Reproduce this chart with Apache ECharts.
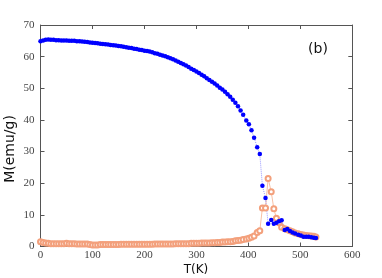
<!DOCTYPE html>
<html><head><meta charset="utf-8">
<script src="https://cdn.jsdelivr.net/npm/echarts@6/dist/echarts.min.js"></script>
<style>html,body{margin:0;padding:0;background:#fff}#c{width:382px;height:278px}</style>
</head><body><div id="c"></div>
<script>
var temperatures = [0,5,10,15,20,25,30,35,40,45,50,55,60,65,70,75,80,85,90,95,100,105,110,115,120,125,130,135,140,145,150,155,160,165,170,175,180,185,190,195,200,205,210,215,220,225,230,235,240,245,250,255,260,265,270,275,280,285,290,295,300,305,310,315,320,325,330,335,340,345,350,355,360,365,370,375,380,
385,390,396,401,406,411,417,422,427,433,438,444,449,454,459,464,470,475,480,485,490,496,501,506,511,516,521,526,530];
var mBlue = [64.9,65.1,65.3,65.4,65.3,65.3,65.2,65.2,65.1,65.1,65.1,65.0,65.0,65.0,64.9,64.9,64.8,64.7,64.6,64.5,64.4,64.3,64.2,64.1,64.0,63.9,63.8,63.7,63.6,63.5,63.4,63.3,63.1,63.0,62.8,62.7,62.5,62.4,62.2,62.1,61.9,61.8,61.6,61.4,61.1,60.9,60.6,60.4,60.1,59.8,59.5,59.2,58.8,58.4,58.0,57.6,57.2,56.7,56.2,55.8,55.3,54.8,54.3,53.8,53.2,52.6,52.1,51.5,50.9,50.2,49.6,48.9,48.1,47.3,46.4,45.4,44.3,
43.0,41.6,39.8,38.6,36.7,34.4,31.4,29.2,19.2,15.3,7.2,8.4,7.2,7.5,8.0,8.3,5.2,5.5,4.9,4.4,4.1,3.7,3.5,3.1,3.1,3.1,2.9,2.8,2.7];
var mOrange = [1.5,1.3,1.1,1.0,0.9,0.9,0.9,0.9,0.9,0.9,1.0,0.9,0.9,0.9,0.8,0.8,0.8,0.8,0.8,0.6,0.5,0.5,0.5,0.6,0.6,0.6,0.6,0.6,0.6,0.6,0.6,0.7,0.7,0.7,0.7,0.7,0.7,0.7,0.7,0.7,0.7,0.7,0.7,0.7,0.8,0.8,0.8,0.8,0.8,0.8,0.8,0.8,0.9,0.9,0.9,0.9,0.9,0.9,1.0,1.0,1.0,1.0,1.1,1.1,1.1,1.1,1.2,1.2,1.3,1.3,1.4,1.4,1.5,1.5,1.6,1.8,1.9,
2.0,2.2,2.4,2.6,2.9,3.3,4.4,5.0,12.2,12.2,21.5,17.3,11.9,8.9,7.5,6.1,5.6,5.3,5.0,4.7,4.3,4.0,3.8,3.6,3.5,3.4,3.3,3.2,3.0];
var xTicks = [0,100,200,300,400,500,600];
var yTicks = [0,10,20,30,40,50,60,70];
var xTitle = 'T(K)', yTitle = 'M(emu/g)', panelLabel = '(b)';

function pairs(v){ return temperatures.map(function(t,i){ return [t, v[i]]; }); }
var frameLine = {show:true, onZero:false, lineStyle:{color:'#555',width:1}};
var tick = {show:true, inside:true, length:4, lineStyle:{color:'#555'}};
var chart = echarts.init(document.getElementById('c'), null, {renderer:'canvas'});
var labelFont = {color:'#444', fontFamily:'Liberation Serif', fontSize:11};
chart.setOption({
  animation:false,
  grid:{left:40.5, right:29.7, top:25, bottom:31.5},
  xAxis:[
    {type:'value', position:'bottom', min:xTicks[0], max:xTicks[xTicks.length-1], interval:100,
     axisLine:frameLine, axisTick:tick, splitLine:{show:false},
     axisLabel:Object.assign({margin:3}, labelFont)},
    {type:'value', position:'top', min:0, max:600, interval:100,
     axisLine:frameLine, axisTick:tick, splitLine:{show:false}, axisLabel:{show:false}}
  ],
  yAxis:[
    {type:'value', position:'left', min:yTicks[0], max:yTicks[yTicks.length-1], interval:10,
     axisLine:frameLine, axisTick:tick, splitLine:{show:false},
     axisLabel:Object.assign({margin:6}, labelFont)},
    {type:'value', position:'right', min:0, max:70, interval:10,
     axisLine:frameLine, axisTick:tick, splitLine:{show:false}, axisLabel:{show:false}}
  ],
  series:[
    {type:'line', data:pairs(mOrange), symbol:'emptyCircle', symbolSize:5, showAllSymbol:true,
     itemStyle:{color:'#f3a07c', borderWidth:1},
     lineStyle:{color:'#f8c0a4', width:1}},
    {type:'line', data:pairs(mBlue), symbol:'circle', symbolSize:4.5, showAllSymbol:true,
     itemStyle:{color:'#0000ff'},
     lineStyle:{color:'#9a9aff', width:1, type:'dotted'}}
  ],
  graphic:[
    {type:'text', x:196, y:270, style:{text:xTitle, font:'12px "DejaVu Sans"', fill:'#111', align:'center', verticalAlign:'middle'}},
    {type:'text', x:10, y:149, rotation:Math.PI/2, style:{text:yTitle, font:'14px "DejaVu Sans"', fill:'#111', align:'center', verticalAlign:'middle'}},
    {type:'text', x:318, y:49, style:{text:panelLabel, font:'14px "DejaVu Sans"', fill:'#111', align:'center', verticalAlign:'middle'}}
  ]
});
</script></body></html>
